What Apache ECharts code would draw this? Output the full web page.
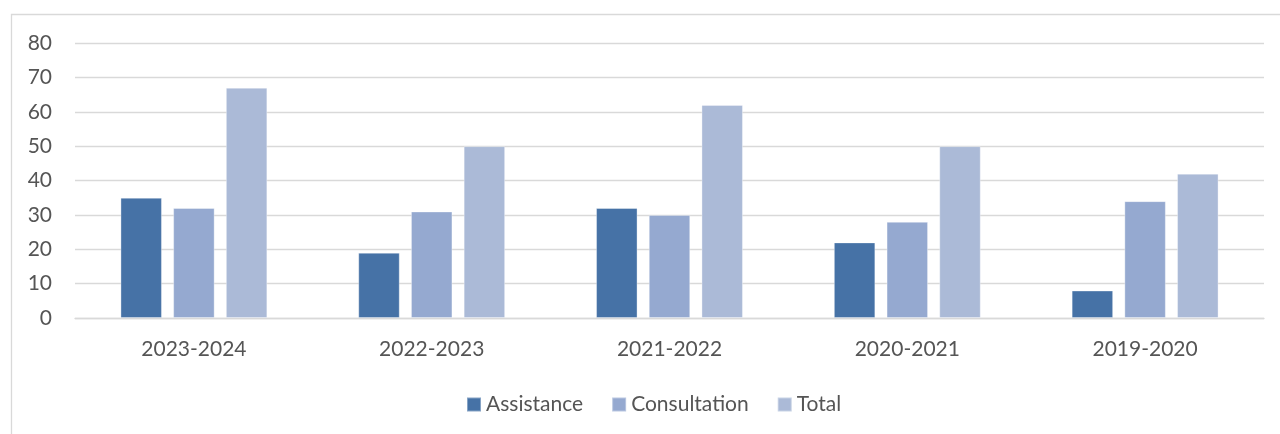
<!DOCTYPE html>
<html>
<head>
<meta charset="utf-8">
<style>
  html, body { margin: 0; padding: 0; background: #ffffff; }
  #chart { width: 1280px; height: 434px; }
</style>
<script src="https://cdn.jsdelivr.net/npm/echarts@6/dist/echarts.min.js"></script>
</head>
<body>
<div id="chart"></div>
<script>
// Fiscal years, newest first
const categories = ['2023-2024', '2022-2023', '2021-2022', '2020-2021', '2019-2020'];

// Counts per year
const assistance   = [35, 19, 32, 22, 8];
const consultation = [32, 31, 30, 28, 34];
const total        = [67, 50, 62, 50, 42];

const seriesNames  = ['Assistance', 'Consultation', 'Total'];
const seriesColors = ['#4672A6', '#95A9D0', '#ABBAD7'];

const textColor = '#555555';
const fontFamily = 'Lato, "Open Sans", sans-serif';

const chart = echarts.init(document.getElementById('chart'), null, { renderer: 'canvas' });

function barSeries(name, data, color) {
  return {
    name: name,
    type: 'bar',
    data: data,
    barWidth: 41.5,
    barGap: '27%',
    itemStyle: { color: color, borderColor: 'rgba(255,255,255,0.35)', borderWidth: 1 },
    emphasis: { disabled: true }
  };
}

chart.setOption({
  animation: false,
  backgroundColor: '#ffffff',
  textStyle: { fontFamily: fontFamily },
  graphic: [{
    type: 'rect',
    shape: { x: 11.5, y: 14.5, width: 1300, height: 500 },
    style: { fill: 'none', stroke: '#D9D9D9', lineWidth: 1.3 },
    silent: true,
    z: -1
  }],
  grid: { left: 75, right: 16, top: 43, bottom: 116, containLabel: false },
  legend: {
    left: 466,
    top: 394,
    padding: 0,
    itemWidth: 14,
    itemHeight: 14,
    itemGap: 28,
    itemTextGap: 5,
    icon: 'rect',
    data: seriesNames,
    textStyle: { color: textColor, fontSize: 21, fontFamily: fontFamily }
  },
  xAxis: {
    type: 'category',
    data: categories,
    axisLine: { show: true, lineStyle: { color: '#D9D9D9', width: 1.3 } },
    axisTick: { show: false },
    axisLabel: { color: textColor, fontSize: 21, margin: 21, fontFamily: fontFamily }
  },
  yAxis: {
    type: 'value',
    min: 0,
    max: 80,
    interval: 10,
    axisLine: { show: false },
    axisTick: { show: false },
    splitLine: { lineStyle: { color: '#D9D9D9', width: 1.3 } },
    axisLabel: { color: textColor, fontSize: 21, margin: 23, fontFamily: fontFamily }
  },
  series: [
    barSeries(seriesNames[0], assistance, seriesColors[0]),
    barSeries(seriesNames[1], consultation, seriesColors[1]),
    barSeries(seriesNames[2], total, seriesColors[2])
  ]
});
</script>
</body>
</html>
